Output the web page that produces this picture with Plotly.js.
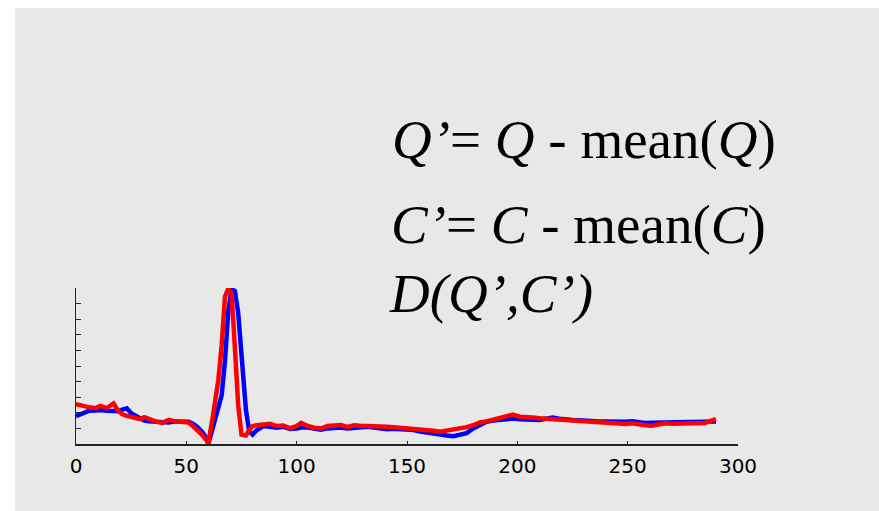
<!DOCTYPE html>
<html>
<head>
<meta charset="utf-8">
<script src="https://cdn.plot.ly/plotly-3.0.1.min.js"></script>
<style>
  html, body { margin: 0; padding: 0; background: #ffffff; width: 879px; height: 511px; overflow: hidden; }
  #chart { position: absolute; left: 15px; top: 8px; width: 864px; height: 503px; }
</style>
</head>
<body>
<div id="chart"></div>
<script>
// Sample positions (time index)
const xValues = [0,3,6,9,11,14,17,19,21,23,25,27,29,31,33,36,39,42,45,48,51,53,55,57,58.5,60,62,63,64.5,66,67.5,69,70.5,72,73.5,75,77,78.5,80,82,85,88,91,94,97,100,102,105,108,111,114,117,120,123,126,129,132,135,138,141,144,147,150,153,156,159,162,165,168,171,174,177,180,183,186,189,192,195,198,201,204,207,210,213,216,219,222,225,228,231,234,237,240,243,246,249,252,255,258,261,264,267,270,273,276,279,282,285,288,290];

// Series Q (blue)
const seriesQ = [1.79,1.97,2.13,2.15,2.18,2.13,2.13,2.10,2.20,2.29,1.97,1.80,1.65,1.50,1.45,1.43,1.40,1.38,1.45,1.43,1.43,1.30,1.10,0.80,0.50,0.02,1.00,1.54,2.30,3.10,5.30,8.50,9.95,9.80,8.40,5.50,2.20,0.80,0.60,0.90,1.15,1.10,1.05,1.10,0.96,1.00,1.05,1.05,0.95,0.92,1.00,1.05,1.05,1.00,1.05,1.05,1.10,1.05,1.00,0.95,0.98,0.96,0.97,0.90,0.80,0.72,0.69,0.62,0.55,0.50,0.58,0.70,1.00,1.25,1.43,1.50,1.55,1.60,1.63,1.58,1.60,1.55,1.54,1.60,1.70,1.62,1.55,1.54,1.52,1.48,1.45,1.45,1.45,1.42,1.40,1.43,1.45,1.37,1.35,1.36,1.37,1.35,1.33,1.35,1.36,1.36,1.37,1.38,1.42,1.45];

// Series C (red)
const seriesC = [2.56,2.44,2.35,2.30,2.44,2.30,2.60,2.15,1.90,1.80,1.72,1.68,1.60,1.72,1.60,1.45,1.35,1.55,1.45,1.40,1.38,1.15,0.90,0.60,0.35,0.05,1.75,2.60,4.10,6.30,9.44,9.95,9.66,6.20,2.50,0.60,0.55,0.90,1.15,1.20,1.25,1.30,1.15,1.18,1.01,1.15,1.35,1.15,1.05,1.00,1.15,1.20,1.22,1.10,1.20,1.17,1.17,1.10,1.11,1.10,1.08,1.04,1.07,1.00,0.96,0.90,0.85,0.79,0.85,0.92,1.01,1.08,1.20,1.38,1.45,1.55,1.65,1.72,1.88,1.75,1.75,1.70,1.65,1.62,1.60,1.58,1.55,1.54,1.48,1.45,1.42,1.43,1.37,1.30,1.32,1.28,1.33,1.25,1.20,1.17,1.25,1.33,1.30,1.30,1.33,1.35,1.30,1.35,1.50,1.60];

const xTickVals = [0,50,100,150,200,250,300];
const xTickText = ["0","50","100","150","200","250","300"];
const yTickVals = [0,1,2,3,4,5,6,7,8,9,10];

const formulaLines = [
  "<i>Q’</i>= <i>Q</i> - mean(<i>Q</i>)",
  "<i>C’</i>= <i>C</i> - mean(<i>C</i>)",
  "<i>D(Q’,C’)</i>"
];

const traces = [
  { x: xValues, y: seriesQ, type: "scatter", mode: "lines", line: { color: "#0000ff", width: 4.5 }, hoverinfo: "skip" },
  { x: xValues, y: seriesC, type: "scatter", mode: "lines", line: { color: "#ff0000", width: 4.5 }, hoverinfo: "skip" }
];

const annPos = [
  { x: 0.475, y: 1.955 },
  { x: 0.473, y: 1.405 },
  { x: 0.470, y: 0.965 }
];

const layout = {
  width: 864, height: 503,
  margin: { l: 61, r: 141, t: 280, b: 67, pad: 0 },
  paper_bgcolor: "#e8e8e8",
  plot_bgcolor: "#e8e8e8",
  showlegend: false,
  xaxis: {
    range: [0, 300], tickvals: xTickVals, ticktext: xTickText,
    ticks: "inside", ticklen: 3, tickwidth: 1, tickcolor: "#222",
    ticklabelstandoff: 3,
    showline: true, linecolor: "#222", linewidth: 1.5,
    showgrid: false, zeroline: false,
    tickfont: { family: "DejaVu Sans, Verdana, sans-serif", size: 20, color: "#000" }
  },
  yaxis: {
    range: [0, 10], tickvals: yTickVals, showticklabels: false,
    ticks: "inside", ticklen: 5, tickwidth: 1, tickcolor: "#222",
    showline: true, linecolor: "#222", linewidth: 1.5,
    showgrid: false, zeroline: false
  },
  annotations: formulaLines.map((t, i) => ({
    text: t, xref: "paper", yref: "paper", x: annPos[i].x, y: annPos[i].y,
    xanchor: "left", yanchor: "middle", showarrow: false,
    font: { family: "Liberation Serif, Times New Roman, serif", size: 55, color: "#000" }
  }))
};

Plotly.newPlot("chart", traces, layout, { displayModeBar: false, staticPlot: true });
</script>
</body>
</html>
